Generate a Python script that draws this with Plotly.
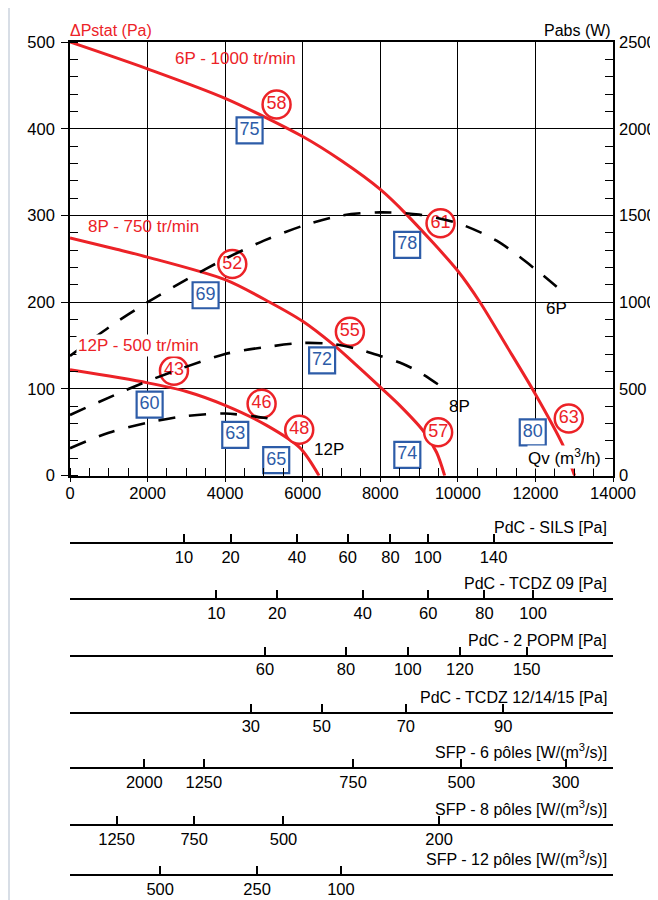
import plotly.graph_objects as go

RED = '#ec2227'
BLUE = '#2d5ca8'
FONT = 'Liberation Sans, Arial, sans-serif'
TICK = 16.5
TXT = 16

# ---- pressure curves: Qv (m3/h) -> dPstat (Pa)
q_6p = [0, 2000, 4000, 6000, 7000, 8000, 8680, 10000, 10570, 11250, 12000, 12700, 13010]
p_6p = [500, 469, 435, 391, 363, 330, 301, 236, 200, 150, 94, 36, 0]
q_8p = [0, 1200, 2000, 4000, 5150, 6000, 6790, 7220, 8000, 8500, 9100, 9450, 9660]
p_8p = [274, 261, 252, 226, 200, 178, 151, 134, 102, 81, 52, 27, 0]
q_12p = [0, 2000, 3000, 4000, 5070, 5930, 6420]
p_12p = [122, 107, 97, 81, 58, 32, 0]

# ---- absorbed power curves: Qv (m3/h) -> Pabs (W)
qw_6p = [0, 1000, 2000, 3000, 4000, 5000, 6000, 7000, 8000, 9000, 10000, 11000, 12000, 12750]
w_6p = [690, 855, 1000, 1130, 1250, 1355, 1440, 1500, 1518, 1505, 1455, 1355, 1190, 1050]
qw_8p = [0, 2000, 4000, 5000, 6000, 6800, 7500, 8000, 8500, 9000, 9700]
w_8p = [350, 545, 701, 740, 765, 758, 725, 690, 652, 598, 494]
qw_12p = [0, 1000, 2000, 3000, 4000, 5000, 5330]
w_12p = [158, 248, 305, 344, 358, 334, 321]

# ---- sound level markers (circles) and efficiency markers (boxes)
circle_q = [5326, 9553, 12859, 4184, 7216, 9492, 2680, 4940, 5910]
circle_p = [428, 291, 66, 244, 166, 50, 121, 83, 53]
circle_txt = ['58', '61', '63', '52', '55', '57', '43', '46', '48']
box_q = [4630, 8693, 11931, 3496, 6500, 8697, 2053, 4261, 5317]
box_p = [398, 266, 50, 208, 133, 24, 82, 47, 18]
box_txt = ['75', '78', '80', '69', '72', '74', '60', '63', '65']

# ---- auxiliary scales (positions expressed in Qv, m3/h)
sils_q = [2940, 4141, 5850, 7159, 8262, 9226, 10921]
sils_lbl = ['10', '20', '40', '60', '80', '100', '140']
tcdz09_q = [3773, 5342, 7548, 9236, 10684, 11939]
tcdz09_lbl = ['10', '20', '40', '60', '80', '100']
popm_q = [5025, 7113, 8710, 10050, 11777]
popm_lbl = ['60', '80', '100', '120', '150']
tcdz12_q = [4662, 6489, 8659, 11171]
tcdz12_lbl = ['30', '50', '70', '90']
sfp6_q = [1915, 3451, 7298, 10089, 12782]
sfp6_lbl = ['2000', '1250', '750', '500', '300']
sfp8_q = [1201, 3201, 5504, 9517]
sfp8_lbl = ['1250', '750', '500', '200']
sfp12_q = [2325, 4824, 6986]
sfp12_lbl = ['500', '250', '100']

scales = [
    ('PdC - SILS [Pa]', sils_q, sils_lbl, 0.4092),
    ('PdC - TCDZ 09 [Pa]', tcdz09_q, tcdz09_lbl, 0.3428),
    ('PdC - 2 POPM [Pa]', popm_q, popm_lbl, 0.2763),
    ('PdC - TCDZ 12/14/15 [Pa]', tcdz12_q, tcdz12_lbl, 0.2091),
    ('SFP - 6 pôles [W/(m<sup>3</sup>/s)]', sfp6_q, sfp6_lbl, 0.1439),
    ('SFP - 8 pôles [W/(m<sup>3</sup>/s)]', sfp8_q, sfp8_lbl, 0.0770),
    ('SFP - 12 pôles [W/(m<sup>3</sup>/s)]', sfp12_q, sfp12_lbl, 0.0180),
]

fig = go.Figure()

for q, p in [(q_6p, p_6p), (q_8p, p_8p), (q_12p, p_12p)]:
    fig.add_trace(go.Scatter(x=q, y=p, mode='lines',
                             line=dict(color=RED, width=3, shape='spline', smoothing=0.8),
                             showlegend=False, hoverinfo='skip'))

for q, w in [(qw_6p, w_6p), (qw_8p, w_8p), (qw_12p, w_12p)]:
    fig.add_trace(go.Scatter(x=q, y=w, mode='lines', yaxis='y2',
                             line=dict(color='black', width=2.6, dash='17px,14px',
                                       shape='spline', smoothing=0.8),
                             showlegend=False, hoverinfo='skip'))

fig.add_trace(go.Scatter(x=circle_q, y=circle_p, mode='markers+text', text=circle_txt,
                         textposition='middle center',
                         textfont=dict(family=FONT, size=18, color=RED),
                         marker=dict(symbol='circle', size=28, color='white',
                                     line=dict(color=RED, width=2.5)),
                         showlegend=False, hoverinfo='skip', cliponaxis=False))
fig.add_trace(go.Scatter(x=box_q, y=box_p, mode='markers+text', text=box_txt,
                         textposition='middle center',
                         textfont=dict(family=FONT, size=18, color=BLUE),
                         marker=dict(symbol='square', size=26, color='white',
                                     line=dict(color=BLUE, width=2.2)),
                         showlegend=False, hoverinfo='skip', cliponaxis=False))

axis_font = dict(family=FONT, size=TICK, color='black')

# The page adds an 8px body margin, so the figure is 650x892 drawn from (8, 8).
layout = dict(
    width=650, height=892,
    margin=dict(l=62, r=45, t=34, b=10, autoexpand=False),
    paper_bgcolor='white', plot_bgcolor='white',
    font=dict(family=FONT, size=TXT, color='black'),
    xaxis=dict(range=[0, 14000], dtick=2000, tickformat='d', showgrid=True, gridcolor='black',
               gridwidth=1.3, showline=True, linecolor='black', linewidth=1.6, mirror=True,
               ticks='outside', ticklen=5, tickcolor='black', tickwidth=1.3,
               minor=dict(dtick=500, ticks='inside', ticklen=8, tickcolor='black', tickwidth=1.3,
                          showgrid=False),
               zeroline=False, tickfont=axis_font, ticklabelstandoff=-3, automargin=False),
    yaxis=dict(range=[0, 500], dtick=100, domain=[0.4886, 1], showgrid=True, gridcolor='black',
               gridwidth=1.3, showline=True, linecolor='black', linewidth=1.6, mirror=True,
               ticks='outside', ticklen=7, tickcolor='black', tickwidth=1.3,
               minor=dict(dtick=20, ticks='inside', ticklen=8, tickcolor='black', tickwidth=1.3,
                          showgrid=False),
               zeroline=False, tickfont=axis_font, ticklabelstandoff=3, automargin=False),
    yaxis2=dict(range=[0, 2500], dtick=500, tickformat='d', overlaying='y', side='right',
                showgrid=False, showline=False, ticks='',
                minor=dict(dtick=100, ticks='inside', ticklen=8, tickcolor='black', tickwidth=1.3,
                           showgrid=False),
                zeroline=False, tickfont=axis_font, ticklabelstandoff=5, automargin=False),
)

annotations = [
    dict(text='ΔPstat (Pa)', xref='paper', yref='paper', x=0, y=1, xanchor='left',
         yanchor='bottom', xshift=-2, yshift=1, showarrow=False,
         font=dict(family=FONT, size=TXT, color=RED)),
    dict(text='Pabs (W)', xref='paper', yref='paper', x=1, y=1, xanchor='right',
         yanchor='bottom', yshift=1, showarrow=False,
         font=dict(family=FONT, size=TXT, color='black')),
    dict(text='6P - 1000 tr/min', x=2662, y=481, xanchor='left', showarrow=False,
         font=dict(family=FONT, size=17, color=RED)),
    dict(text='8P - 750 tr/min', x=412, y=287, xanchor='left', showarrow=False,
         font=dict(family=FONT, size=17, color=RED)),
    dict(text='12P - 500 tr/min', x=150, y=150.6, xanchor='left', showarrow=False,
         bgcolor='white', borderpad=1, font=dict(family=FONT, size=17, color=RED)),
    dict(text='6P', x=12542, y=193, showarrow=False, font=dict(family=FONT, size=17, color='black')),
    dict(text='8P', x=10050, y=79.5, showarrow=False, font=dict(family=FONT, size=17, color='black')),
    dict(text='12P', x=6675, y=29.6, showarrow=False, font=dict(family=FONT, size=17, color='black')),
    dict(text='Qv (m<sup>3</sup>/h)', x=12756, y=22, showarrow=False, bgcolor='white', borderpad=0,
         font=dict(family=FONT, size=17, color='black')),
]

for i, (title, vals, lbls, pos) in enumerate(scales):
    name = 'xaxis%d' % (i + 2)
    layout[name] = dict(range=[0, 14000], overlaying='x', anchor='free', position=pos,
                        side='bottom', showgrid=False, zeroline=False, showline=True,
                        linecolor='black', linewidth=2, ticks='inside', ticklen=8,
                        tickwidth=1.5, tickcolor='black', tickmode='array',
                        tickvals=vals, ticktext=lbls, tickfont=axis_font,
                        ticklabelstandoff=-1, automargin=False)
    fig.add_trace(go.Scatter(x=[None], y=[None], xaxis='x%d' % (i + 2), yaxis='y',
                             mode='markers', showlegend=False, hoverinfo='skip'))
    annotations.append(dict(text=title, xref='paper', yref='paper', x=1, y=pos,
                            xanchor='right', yanchor='bottom', xshift=-4, yshift=5,
                            showarrow=False, font=dict(family=FONT, size=TXT, color='black')))

layout['annotations'] = annotations
layout['shapes'] = [dict(type='line', xref='paper', yref='paper', x0=-0.1123, x1=-0.1123,
                         y0=-0.012, y1=1.05, line=dict(color='#d8dee6', width=2))]

fig.update_layout(**layout)
fig.write_html('out.html')
